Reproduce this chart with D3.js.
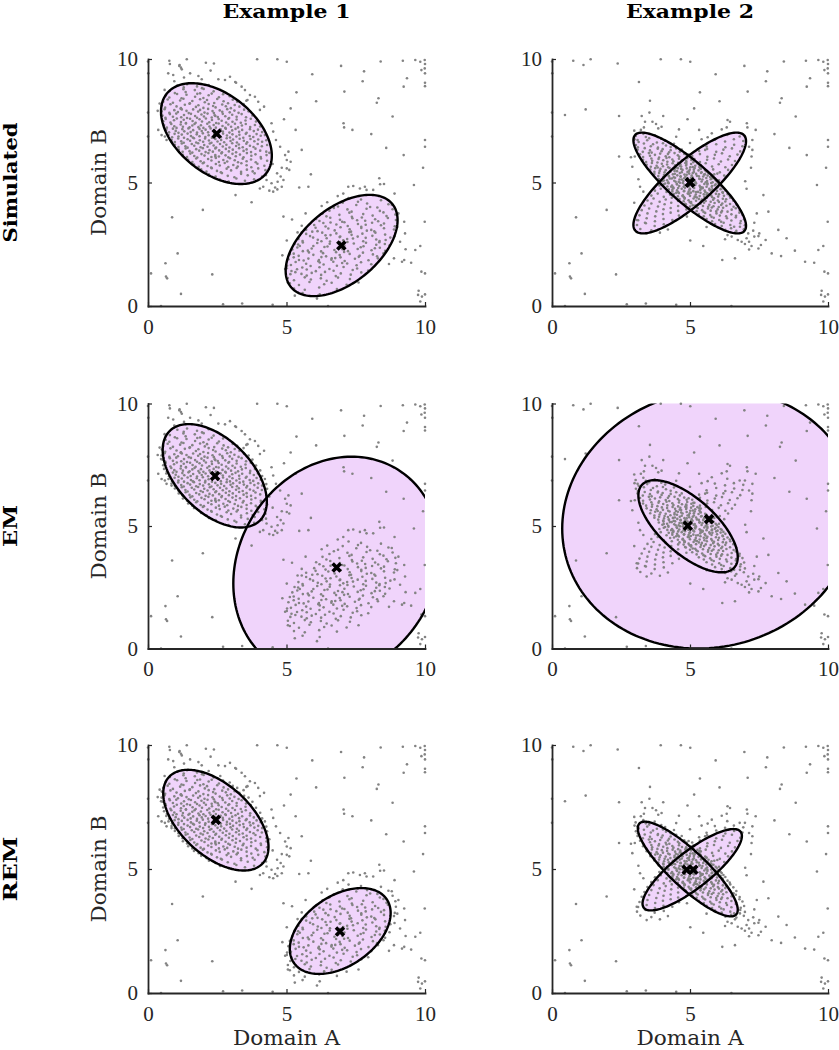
<!DOCTYPE html>
<html>
<head>
<meta charset="utf-8">
<script src="https://cdnjs.cloudflare.com/ajax/libs/d3/7.8.5/d3.min.js"></script>
<style>
  body { margin: 0; background: #fff; }
  svg { display: block; }
</style>
</head>
<body>
<svg id="chart" width="839" height="1050"></svg>
<script>
const colTitles = ["Example 1", "Example 2"];
const rowTitles = ["Simulated", "EM", "REM"];
const tickValues = [0, 5, 10];

// background points, identical in both examples
const noise = [[0.77,9.93],[1.14,9.76],[1.40,9.99],[2.38,9.82],[0.01,9.42],[3.94,9.99],[4.67,9.99],[5.01,9.89],[5.93,9.38],[6.97,9.72],[7.75,9.10],[5.36,8.65],[7.09,8.68],[3.15,9.07],[6.07,8.29],[9.20,9.93],[9.65,9.96],[9.83,9.89],[9.99,9.96],[10.0,9.80],[9.99,9.62],[10.0,9.42],[10.0,9.04],[10.0,8.90],[9.87,9.55],[9.35,9.22],[9.23,8.88],[8.32,8.41],[8.26,8.23],[8.83,7.67],[8.06,6.96],[9.23,6.11],[10.0,6.72],[10.0,6.45],[9.93,5.60],[9.99,3.41],[9.83,2.43],[9.65,2.27],[9.87,1.39],[10.0,1.32],[9.77,0.62],[9.75,0.45],[9.89,0.38],[10.0,0.47],[9.83,0.18],[9.17,1.79],[9.50,1.75],[0.47,7.73],[1.22,7.96],[0.0,7.83],[2.43,7.69],[3.55,8.31],[1.98,3.89],[0.87,3.59],[1.07,2.13],[0.63,1.73],[0.65,1.19],[0.69,1.12],[0.11,1.32],[1.19,0.49],[2.32,1.28],[2.71,0.07],[0.47,0.0],[0.0,6.86],[5.33,7.13],[5.15,8.0],[4.91,7.56],[5.55,6.32],[5.88,5.33],[5.46,4.8],[5.79,4.83],[4.89,3.62],[5.01,2.65],[7.08,7.23],[7.38,7.13],[7.06,7.4],[2.43,6.05],[5.48,2.43],[6.17,1.86],[6.63,1.93],[7.8,9.5],[8.4,9.9],[0.0,9.9],[4.5,0.05],[6.5,0.0],[3.4,0.1],[9.6,4.9],[8.6,6.4]];

// Example 1, first group (upper left)
const ex1GroupA = [[1.06,8.93],[1.29,8.85],[1.41,8.98],[1.77,8.89],[1.95,8.82],[2.19,8.95],
[0.79,8.71],[0.97,8.62],[1.28,8.78],[1.36,8.66],[1.69,8.74],[1.88,8.61],[2.01,8.79],[2.37,8.69],[2.61,8.75],
[0.64,8.52],[0.77,8.44],[1.05,8.58],[1.21,8.41],[1.39,8.55],[1.7,8.47],[1.78,8.59],[2.0,8.42],[2.19,8.53],[2.3,8.6],[2.56,8.45],[2.71,8.57],[2.95,8.49],
[0.55,8.27],[0.71,8.36],[0.9,8.23],[1.16,8.32],[1.28,8.39],[1.51,8.21],[1.6,8.3],[1.88,8.37],[2.05,8.25],[2.13,8.34],[2.39,8.22],[2.5,8.38],[2.73,8.29],[2.89,8.21],[3.06,8.35],[3.22,8.27],
[0.5,8.12],[0.62,8.03],[0.81,8.17],[1.03,8.08],[1.19,8.01],[1.33,8.15],[1.5,8.19],[1.73,8.06],[1.82,8.13],[2.0,8.02],[2.19,8.18],[2.35,8.1],[2.44,8.04],[2.68,8.16],[2.81,8.09],[2.99,8.01],[3.13,8.14],[3.3,8.07],[3.45,8.18],
[0.49,7.88],[0.6,7.97],[0.77,7.82],[0.95,7.93],[1.08,7.85],[1.18,7.99],[1.39,7.9],[1.47,7.81],[1.63,7.96],[1.81,7.87],[1.88,7.94],[2.04,7.83],[2.17,7.98],[2.33,7.89],[2.38,7.81],[2.59,7.92],[2.68,7.86],[2.86,7.97],[2.95,7.84],[3.12,7.91],[3.27,7.82],[3.47,7.95],[3.63,7.88],
[0.52,7.71],[0.63,7.62],[0.79,7.77],[0.9,7.66],[1.02,7.79],[1.2,7.64],[1.3,7.73],[1.41,7.61],[1.55,7.78],[1.7,7.69],[1.77,7.62],[1.93,7.75],[2.02,7.67],[2.15,7.79],[2.3,7.63],[2.41,7.72],[2.52,7.65],[2.7,7.78],[2.79,7.68],[2.93,7.61],[3.04,7.74],[3.2,7.66],[3.38,7.77],[3.54,7.64],[3.77,7.71],
[0.55,7.48],[0.64,7.57],[0.81,7.43],[0.94,7.52],[1.04,7.59],[1.19,7.45],[1.29,7.54],[1.37,7.41],[1.52,7.58],[1.61,7.49],[1.72,7.42],[1.86,7.56],[1.95,7.47],[2.09,7.59],[2.21,7.44],[2.31,7.53],[2.46,7.41],[2.55,7.57],[2.66,7.5],[2.82,7.43],[2.9,7.58],[3.05,7.46],[3.2,7.55],[3.35,7.42],[3.52,7.51],[3.71,7.58],[3.9,7.47],
[0.58,7.33],[0.68,7.22],[0.84,7.37],[0.95,7.28],[1.03,7.21],[1.18,7.35],[1.26,7.26],[1.37,7.39],[1.5,7.23],[1.6,7.31],[1.68,7.37],[1.82,7.24],[1.91,7.32],[2.0,7.21],[2.14,7.38],[2.22,7.27],[2.37,7.33],[2.45,7.22],[2.55,7.39],[2.69,7.29],[2.79,7.21],[2.9,7.35],[3.0,7.26],[3.14,7.38],[3.25,7.23],[3.39,7.31],[3.53,7.37],[3.69,7.25],[3.86,7.33],[4.05,7.27],
[0.66,7.14],[0.76,7.03],[0.9,7.18],[1.0,7.09],[1.1,7.01],[1.24,7.16],[1.31,7.07],[1.46,7.19],[1.54,7.04],[1.63,7.12],[1.77,7.02],[1.86,7.17],[1.94,7.08],[2.08,7.14],[2.17,7.03],[2.26,7.19],[2.4,7.1],[2.48,7.01],[2.62,7.15],[2.7,7.06],[2.81,7.18],[2.94,7.02],[3.04,7.11],[3.16,7.17],[3.29,7.05],[3.4,7.13],[3.56,7.01],[3.68,7.16],[3.82,7.08],[3.97,7.14],[4.12,7.04],
[0.74,6.92],[0.87,6.83],[0.96,6.97],[1.1,6.86],[1.22,6.94],[1.3,6.81],[1.43,6.98],[1.55,6.88],[1.62,6.82],[1.76,6.95],[1.86,6.87],[1.98,6.99],[2.07,6.84],[2.19,6.91],[2.31,6.81],[2.39,6.96],[2.52,6.89],[2.63,6.83],[2.71,6.98],[2.85,6.9],[2.96,6.82],[3.05,6.95],[3.19,6.86],[3.3,6.93],[3.44,6.81],[3.53,6.97],[3.67,6.88],[3.8,6.84],[3.92,6.96],[4.07,6.89],[4.22,6.92],
[0.85,6.73],[0.97,6.64],[1.09,6.78],[1.2,6.67],[1.29,6.61],[1.43,6.75],[1.52,6.69],[1.66,6.79],[1.74,6.62],[1.87,6.71],[1.99,6.65],[2.06,6.78],[2.2,6.7],[2.29,6.61],[2.43,6.76],[2.51,6.66],[2.64,6.72],[2.75,6.63],[2.84,6.79],[2.98,6.68],[3.07,6.74],[3.21,6.62],[3.31,6.77],[3.46,6.69],[3.58,6.63],[3.7,6.76],[3.84,6.67],[3.98,6.74],[4.12,6.65],[4.27,6.71],
[0.97,6.53],[1.1,6.44],[1.22,6.58],[1.35,6.47],[1.43,6.41],[1.58,6.56],[1.67,6.49],[1.81,6.59],[1.9,6.43],[2.03,6.52],[2.15,6.45],[2.23,6.58],[2.37,6.5],[2.46,6.42],[2.6,6.56],[2.7,6.46],[2.83,6.53],[2.94,6.42],[3.04,6.59],[3.18,6.48],[3.28,6.54],[3.42,6.43],[3.55,6.57],[3.68,6.49],[3.81,6.44],[3.96,6.56],[4.11,6.47],[4.3,6.52],
[1.11,6.33],[1.25,6.24],[1.36,6.38],[1.5,6.27],[1.6,6.21],[1.74,6.35],[1.85,6.29],[1.98,6.39],[2.08,6.23],[2.22,6.31],[2.34,6.25],[2.43,6.38],[2.57,6.3],[2.67,6.22],[2.81,6.36],[2.92,6.26],[3.06,6.33],[3.18,6.22],[3.29,6.39],[3.45,6.28],[3.56,6.34],[3.72,6.23],[3.88,6.37],[4.05,6.29],[4.27,6.25],
[1.26,6.12],[1.41,6.03],[1.53,6.17],[1.67,6.07],[1.78,6.01],[1.93,6.15],[2.04,6.09],[2.18,6.19],[2.29,6.03],[2.43,6.11],[2.56,6.05],[2.65,6.18],[2.8,6.1],[2.9,6.02],[3.05,6.16],[3.17,6.06],[3.32,6.13],[3.45,6.02],[3.57,6.19],[3.73,6.08],[3.88,6.14],[4.07,6.03],[4.28,6.11],
[1.45,5.92],[1.6,5.83],[1.74,5.97],[1.9,5.86],[2.02,5.81],[2.17,5.95],[2.29,5.89],[2.45,5.99],[2.56,5.83],[2.72,5.91],[2.86,5.85],[2.96,5.98],[3.13,5.9],[3.25,5.82],[3.42,5.96],[3.56,5.86],[3.72,5.93],[3.89,5.82],[4.08,5.97],[4.3,5.88],
[1.66,5.73],[1.83,5.64],[1.98,5.78],[2.15,5.67],[2.28,5.61],[2.45,5.75],[2.59,5.69],[2.77,5.79],[2.9,5.63],[3.08,5.71],[3.24,5.65],[3.37,5.78],[3.56,5.7],[3.73,5.62],[3.95,5.76],[4.2,5.68],
[1.92,5.53],[2.11,5.44],[2.3,5.58],[2.49,5.47],[2.63,5.41],[2.84,5.56],[3.0,5.49],[3.2,5.59],[3.36,5.43],[3.57,5.52],[3.78,5.45],[3.98,5.57],[4.24,5.5],
[2.2,5.33],[2.44,5.24],[2.67,5.38],[2.88,5.27],[3.12,5.21],[3.36,5.35],[3.6,5.29],[3.85,5.37],[4.12,5.24],
[2.6,5.12],[2.91,5.04],[3.19,5.16],[3.5,5.07],[3.83,5.13],
[0.79,9.8],[1.13,9.72],[1.19,9.65],[1.22,9.58],[2.09,9.85],[0.73,9.42],[0.91,9.35],[1.52,9.42],[1.82,9.31],[1.94,9.18],[2.26,9.53],[2.54,9.18],[2.78,9.15],[2.96,9.28],[3.18,9.04],[3.38,8.88],[3.5,8.74],[3.68,8.54],[3.59,8.34],[3.86,8.47],[3.98,8.27],[4.19,8.07],[4.04,7.94],[4.46,7.4],[4.52,7.06],[4.62,6.72],[4.77,6.45],[4.95,6.11],[5.07,6.25],[5.01,5.91],[5.15,5.84],[4.83,5.6],[5.01,5.57],[5.1,5.51],[4.66,5.37],[4.79,5.24],[4.46,4.97],[4.59,4.8],[4.67,4.72],[4.83,4.83],[4.38,4.67],[4.52,4.63],[4.28,5.1],[4.16,4.83],[4.04,4.76],[4.26,5.3],[4.68,5.03],[4.89,5.1],[0.37,7.13],[0.49,6.92],[0.61,6.86],[0.67,6.72],[0.85,6.65],[3.74,4.2],[3.16,4.49],[0.35,7.9],[0.42,8.2],[0.6,8.75],[0.95,9.1],[1.3,9.25],[4.38,6.2],[4.5,5.75]];

// Example 1, second group (lower right)
const ex1GroupB = [[7.24,4.37],[7.58,4.22],[7.69,4.31],[8.41,4.28],
[6.86,4.03],[7.03,4.18],[7.52,4.09],[7.91,4.15],[8.02,4.01],[8.68,4.12],
[6.55,3.86],[6.71,3.97],[7.2,3.91],[7.35,3.82],[7.89,3.94],[8.28,3.99],[8.37,3.85],[8.83,3.92],
[6.3,3.74],[6.44,3.63],[6.91,3.69],[7.27,3.78],[7.36,3.61],[7.77,3.72],[8.11,3.66],[8.5,3.79],[8.61,3.64],[8.93,3.7],
[6.07,3.52],[6.19,3.44],[6.58,3.57],[6.93,3.49],[7.01,3.41],[7.38,3.55],[7.72,3.58],[7.84,3.45],[8.2,3.51],[8.31,3.43],[8.66,3.56],[8.95,3.48],[7.55,3.47],
[6.0,3.28],[6.33,3.36],[6.41,3.22],[6.8,3.3],[7.09,3.39],[7.21,3.24],[7.58,3.32],[7.7,3.21],[8.09,3.37],[8.41,3.27],[8.52,3.34],[8.91,3.23],[6.59,3.38],[7.86,3.29],
[5.71,3.09],[6.05,3.17],[6.12,3.03],[6.51,3.14],[6.74,3.06],[6.95,3.19],[7.28,3.11],[7.33,3.01],[7.7,3.16],[8.06,3.08],[8.17,3.02],[8.52,3.15],[8.88,3.1],[5.93,3.01],[7.9,3.05],
[5.71,2.92],[5.85,2.83],[6.29,2.97],[6.41,2.86],[6.8,2.94],[6.94,2.81],[7.27,2.99],[7.35,2.88],[7.74,2.93],[8.1,2.84],[8.21,2.97],[8.56,2.89],[8.9,2.82],[6.59,2.87],[7.57,2.81],[5.55,2.98],
[5.43,2.71],[5.58,2.63],[5.96,2.77],[6.13,2.68],[6.45,2.74],[6.57,2.61],[6.92,2.79],[7.05,2.66],[7.4,2.73],[7.77,2.62],[7.86,2.76],[8.24,2.69],[8.36,2.63],[8.75,2.77],[6.26,2.62],[7.19,2.71],[8.58,2.67],
[5.42,2.49],[5.59,2.57],[5.97,2.43],[6.11,2.55],[6.48,2.41],[6.56,2.52],[6.93,2.58],[7.09,2.44],[7.43,2.53],[7.78,2.42],[7.87,2.56],[8.24,2.48],[8.35,2.58],[8.72,2.45],[5.29,2.51],[7.2,2.59],[8.55,2.51],
[5.21,2.29],[5.39,2.37],[5.77,2.24],[5.91,2.33],[6.25,2.21],[6.37,2.39],[6.73,2.27],[6.86,2.35],[7.22,2.22],[7.57,2.31],[7.68,2.38],[8.07,2.26],[8.19,2.34],[8.56,2.23],[5.59,2.22],[7.02,2.3],[8.37,2.36],
[5.26,2.12],[5.44,2.03],[5.81,2.17],[5.97,2.07],[6.32,2.14],[6.43,2.01],[6.79,2.18],[6.92,2.06],[7.28,2.11],[7.64,2.03],[7.76,2.16],[8.12,2.09],[8.27,2.01],[8.5,2.13],[5.12,2.1],[7.08,2.19],
[5.07,1.89],[5.26,1.97],[5.62,1.84],[5.79,1.92],[6.15,1.81],[6.26,1.98],[6.62,1.87],[6.76,1.94],[7.1,1.82],[7.47,1.91],[7.61,1.99],[7.96,1.85],[8.3,1.93],[5.45,1.86],[6.95,1.97],
[5.16,1.66],[5.33,1.78],[5.71,1.71],[5.87,1.62],[6.2,1.76],[6.34,1.68],[6.69,1.79],[6.82,1.63],[7.19,1.72],[7.53,1.65],[7.69,1.77],[8.06,1.69],[5.02,1.63],[7.01,1.74],
[5.01,1.53],[5.18,1.42],[5.57,1.56],[5.73,1.48],[6.06,1.41],[6.19,1.57],[6.55,1.5],[6.7,1.43],[7.06,1.58],[7.39,1.46],[7.55,1.52],[7.95,1.44],[5.38,1.49],
[5.14,1.29],[5.32,1.37],[5.73,1.23],[5.91,1.34],[6.25,1.26],[6.39,1.38],[6.78,1.21],[6.96,1.32],[7.32,1.27],[7.7,1.36],[5.54,1.3],
[5.05,1.13],[5.27,1.04],[5.66,1.16],[5.88,1.07],[6.24,1.12],[6.45,1.02],[6.86,1.15],[7.29,1.09],
[5.12,0.92],[5.45,0.85],[5.83,0.97],[6.36,0.88],[6.63,0.94],[7.17,0.86],
[5.27,0.71],[5.66,0.66],[6.18,0.75],[6.82,0.69],
[5.58,0.52],[6.2,0.47],
[7.23,4.83],[7.41,4.86],[7.65,4.76],[7.83,4.83],[7.89,4.7],[8.13,4.7],[8.35,5.17],[8.52,4.94],[8.38,4.93],[9.04,3.75],[9.25,3.41],[9.28,2.94],[9.1,2.6],[8.88,1.93],[9.25,1.86],[6.27,4.05],[6.47,4.2],[6.85,4.45],[7.05,4.55],[5.69,3.75],[5.55,3.25],[5.4,2.98],[4.85,2.05],[5.05,0.95],[5.3,0.42],[6.1,0.3],[8.8,4.1],[9.0,3.2],[8.7,1.7],[7.6,0.95],[5.2,3.5],[4.95,1.5],[9.3,2.3],[8.9,4.55]];

// Example 2, first group (falling diagonal)
const ex2GroupA = [[3.03,6.88],[3.31,6.97],[3.4,6.84],[3.72,6.91],
[2.99,6.75],[3.14,6.64],[3.45,6.71],[3.52,6.79],[3.8,6.62],[3.96,6.77],[4.1,6.69],
[3.04,6.52],[3.11,6.43],[3.33,6.58],[3.58,6.47],[3.66,6.55],[3.84,6.41],[4.02,6.59],[4.13,6.5],[4.3,6.44],[4.42,6.57],
[3.1,6.33],[3.29,6.24],[3.36,6.39],[3.55,6.3],[3.61,6.21],[3.83,6.37],[3.97,6.27],[4.01,6.35],[4.24,6.22],[4.3,6.31],[4.5,6.38],[4.63,6.25],[4.7,6.33],
[3.19,6.14],[3.3,6.03],[3.51,6.19],[3.55,6.08],[3.73,6.12],[3.88,6.01],[3.92,6.17],[4.12,6.06],[4.2,6.15],[4.25,6.02],[4.44,6.19],[4.56,6.1],[4.61,6.04],[4.79,6.16],[4.88,6.07],[4.95,6.13],
[3.3,5.92],[3.41,5.83],[3.6,5.97],[3.63,5.88],[3.82,5.81],[3.86,5.95],[4.03,5.9],[4.15,5.99],[4.18,5.84],[4.36,5.93],[4.4,5.86],[4.57,5.8],[4.6,5.96],[4.71,5.89],[4.87,5.83],[4.9,5.98],[5.05,5.91],[5.12,5.82],[5.16,5.95],
[3.43,5.72],[3.58,5.64],[3.62,5.79],[3.79,5.68],[3.83,5.61],[3.98,5.76],[4.02,5.66],[4.17,5.73],[4.21,5.62],[4.37,5.78],[4.46,5.7],[4.49,5.61],[4.65,5.74],[4.68,5.65],[4.83,5.79],[4.86,5.69],[5.01,5.62],[5.04,5.75],[5.19,5.68],[5.27,5.77],[5.34,5.63],[5.39,5.71],
[3.56,5.52],[3.71,5.43],[3.74,5.58],[3.9,5.47],[3.93,5.55],[4.08,5.41],[4.12,5.5],[4.26,5.59],[4.29,5.44],[4.44,5.53],[4.53,5.46],[4.56,5.58],[4.7,5.42],[4.73,5.51],[4.88,5.57],[4.96,5.45],[4.99,5.52],[5.14,5.43],[5.17,5.59],[5.31,5.49],[5.39,5.55],[5.42,5.41],[5.55,5.5],[5.59,5.46],
[3.71,5.34],[3.85,5.26],[3.88,5.38],[4.03,5.22],[4.06,5.31],[4.2,5.37],[4.24,5.24],[4.38,5.33],[4.41,5.21],[4.54,5.29],[4.63,5.38],[4.66,5.25],[4.8,5.32],[4.83,5.23],[4.97,5.36],[5.06,5.28],[5.09,5.21],[5.22,5.35],[5.25,5.27],[5.4,5.39],[5.48,5.24],[5.51,5.32],[5.64,5.28],[5.67,5.37],[5.73,5.22],[5.78,5.31],
[3.87,5.14],[4.0,5.05],[4.04,5.18],[4.17,5.09],[4.21,5.01],[4.34,5.16],[4.43,5.07],[4.46,5.19],[4.59,5.03],[4.62,5.12],[4.76,5.06],[4.79,5.17],[4.93,5.02],[5.01,5.11],[5.04,5.19],[5.17,5.08],[5.2,5.01],[5.34,5.15],[5.42,5.04],[5.45,5.12],[5.59,5.18],[5.62,5.06],[5.75,5.13],[5.82,5.01],[5.85,5.17],[5.93,5.09],[5.97,5.04],
[4.05,4.93],[4.18,4.84],[4.22,4.97],[4.35,4.88],[4.39,4.81],[4.52,4.95],[4.61,4.86],[4.64,4.99],[4.77,4.83],[4.8,4.91],[4.94,4.85],[4.97,4.98],[5.11,4.82],[5.19,4.9],[5.22,4.97],[5.35,4.87],[5.38,4.81],[5.52,4.94],[5.6,4.83],[5.63,4.92],[5.77,4.98],[5.8,4.86],[5.93,4.93],[6.0,4.81],[6.03,4.96],[6.11,4.88],[6.15,4.84],
[4.23,4.72],[4.36,4.64],[4.4,4.77],[4.53,4.68],[4.57,4.61],[4.7,4.75],[4.79,4.66],[4.82,4.79],[4.95,4.63],[4.98,4.71],[5.12,4.65],[5.15,4.78],[5.29,4.62],[5.37,4.7],[5.4,4.76],[5.53,4.67],[5.56,4.61],[5.7,4.74],[5.78,4.63],[5.81,4.72],[5.95,4.78],[5.98,4.66],[6.11,4.73],[6.18,4.61],[6.21,4.76],[6.28,4.68],
[4.42,4.53],[4.56,4.44],[4.6,4.57],[4.74,4.48],[4.78,4.41],[4.92,4.55],[5.0,4.46],[5.03,4.59],[5.17,4.43],[5.21,4.51],[5.35,4.45],[5.38,4.58],[5.52,4.42],[5.6,4.5],[5.63,4.56],[5.77,4.47],[5.8,4.41],[5.94,4.54],[6.02,4.43],[6.05,4.52],[6.19,4.58],[6.23,4.46],[6.36,4.53],[6.44,4.45],
[4.62,4.33],[4.77,4.24],[4.81,4.37],[4.95,4.28],[4.99,4.21],[5.13,4.35],[5.22,4.26],[5.25,4.39],[5.4,4.23],[5.43,4.31],[5.57,4.25],[5.61,4.38],[5.75,4.22],[5.84,4.3],[5.87,4.36],[6.01,4.27],[6.05,4.21],[6.19,4.34],[6.28,4.23],[6.31,4.32],[6.46,4.38],[6.57,4.26],
[4.85,4.12],[5.0,4.03],[5.04,4.16],[5.19,4.07],[5.23,4.01],[5.38,4.14],[5.47,4.05],[5.51,4.18],[5.66,4.02],[5.7,4.1],[5.85,4.04],[5.89,4.17],[6.04,4.01],[6.13,4.09],[6.17,4.15],[6.32,4.06],[6.45,4.13],[6.58,4.02],[6.68,4.11],
[5.08,3.93],[5.24,3.84],[5.28,3.97],[5.44,3.88],[5.49,3.81],[5.65,3.95],[5.75,3.86],[5.79,3.99],[5.95,3.83],[6.0,3.91],[6.16,3.85],[6.2,3.98],[6.36,3.82],[6.51,3.9],[6.66,3.96],[6.8,3.87],
[5.32,3.72],[5.5,3.63],[5.55,3.77],[5.73,3.68],[5.78,3.61],[5.96,3.75],[6.08,3.66],[6.13,3.79],[6.31,3.63],[6.5,3.71],[6.67,3.65],[6.79,3.78],[6.9,3.69],
[5.6,3.52],[5.8,3.43],[5.86,3.57],[6.06,3.48],[6.13,3.41],[6.34,3.55],[6.5,3.46],[6.66,3.59],[6.84,3.44],[6.96,3.51],
[5.91,3.32],[6.15,3.24],[6.22,3.37],[6.46,3.28],[6.6,3.21],[6.82,3.35],[6.99,3.27],
[6.28,3.08],[6.49,3.15],[6.68,3.04],[6.95,3.11],
[3.25,7.69],[3.37,7.46],[3.53,7.83],[3.64,7.46],[3.77,7.37],[3.85,7.19],[3.97,7.26],[3.33,7.23],[3.22,7.13],[2.98,7.1],[4.03,7.69],[4.6,7.15],[3.1,6.72],[3.0,6.05],[2.86,6.02],[2.91,5.64],[3.13,5.13],[3.19,4.83],[2.98,4.18],[3.31,4.63],
[6.73,2.67],[6.87,2.6],[6.99,2.51],[7.14,2.6],[7.23,2.43],[7.33,2.81],[7.48,2.83],[7.57,2.47],[7.74,2.67],[7.05,2.74],[7.11,2.94],[7.29,3.05],[7.33,3.37],[7.42,3.75],[7.66,4.49],[7.84,3.82],[6.81,3.21],[6.63,2.97],[6.51,2.81],[6.36,2.87],[6.27,2.7],[7.48,2.33],[7.14,2.29],[7.96,2.13],[8.3,2.02],[8.5,2.74],[8.8,2.24],[8.2,3.08],[7.51,2.94]];

// Example 2, second group (rising diagonal)
const ex2GroupB = [[6.35,6.93],[6.8,6.86],
[5.9,6.73],[6.27,6.66],[6.59,6.75],[6.93,6.68],
[5.6,6.46],[5.95,6.55],[6.28,6.43],[6.6,6.53],[6.9,6.47],
[5.33,6.28],[5.62,6.36],[5.95,6.24],[6.21,6.33],[6.52,6.38],[6.82,6.26],
[5.08,6.07],[5.36,6.15],[5.63,6.04],[5.9,6.12],[6.16,6.18],[6.44,6.06],[6.72,6.13],
[4.86,5.88],[5.12,5.95],[5.36,5.83],[5.62,5.92],[5.87,5.97],[6.12,5.85],[6.38,5.93],[6.63,5.87],
[4.63,5.67],[4.87,5.75],[5.1,5.63],[5.34,5.72],[5.57,5.78],[5.8,5.65],[6.04,5.74],[6.28,5.62],[6.52,5.71],
[4.44,5.47],[4.68,5.55],[4.91,5.43],[5.14,5.52],[5.37,5.58],[5.6,5.45],[5.84,5.53],[6.08,5.41],[6.38,5.51],
[4.23,5.27],[4.45,5.35],[4.66,5.23],[4.88,5.31],[5.1,5.38],[5.32,5.25],[5.54,5.33],[5.76,5.21],[5.99,5.36],[6.24,5.28],
[4.05,5.08],[4.27,5.16],[4.48,5.03],[4.7,5.12],[4.91,5.18],[5.13,5.05],[5.35,5.14],[5.57,5.01],[5.8,5.17],[6.05,5.09],
[3.89,4.88],[4.1,4.96],[4.32,4.83],[4.53,4.92],[4.74,4.98],[4.96,4.85],[5.18,4.94],[5.4,4.81],[5.63,4.97],[5.9,4.89],
[3.73,4.67],[3.94,4.75],[4.15,4.62],[4.36,4.71],[4.57,4.78],[4.78,4.65],[5.0,4.74],[5.22,4.61],[5.45,4.77],[5.72,4.69],
[3.6,4.47],[3.83,4.55],[4.05,4.42],[4.28,4.51],[4.5,4.58],[4.73,4.45],[4.96,4.54],[5.2,4.41],[5.5,4.52],
[3.46,4.27],[3.68,4.35],[3.9,4.22],[4.12,4.31],[4.34,4.38],[4.57,4.25],[4.8,4.34],[5.04,4.21],[5.32,4.33],
[3.35,4.07],[3.6,4.15],[3.84,4.03],[4.08,4.12],[4.32,4.18],[4.57,4.05],[4.82,4.14],[5.1,4.08],
[3.25,3.88],[3.52,3.95],[3.78,3.83],[4.04,3.92],[4.3,3.97],[4.57,3.85],[4.87,3.91],
[3.17,3.67],[3.46,3.75],[3.74,3.63],[4.02,3.72],[4.3,3.78],[4.6,3.66],
[3.12,3.47],[3.43,3.55],[3.73,3.43],[4.04,3.52],[4.36,3.48],
[3.08,3.28],[3.4,3.35],[3.72,3.24],[4.05,3.31],
[3.2,3.12],[3.6,3.06],
[6.36,7.53],[6.45,7.46],[6.33,7.23],[6.15,7.15],[5.79,6.99],[5.64,6.83],[5.42,6.75],[6.99,6.86],[7.26,6.72],[7.14,6.45],[7.26,6.32],[7.23,6.05],[7.21,5.6],[7.0,5.05],[7.05,4.75],
[3.07,3.48],[3.37,3.37],[3.43,2.94],[3.91,2.97],[4.2,3.1],[5.6,3.2],[4.5,6.85],[5.0,6.6]];

// fitted components: [mean A, mean B, half-width in A, half-height in B, correlation]
const simEx1 = [[2.47,6.98,2.0,2.04,-0.44],[6.99,2.45,2.02,2.05,0.5]];
const simEx2 = [[4.99,4.98,2.04,2.04,-0.85],[4.99,4.98,2.04,2.04,0.83]];
const emEx1 = [[2.41,7.05,1.88,2.11,-0.5],[6.81,3.31,3.73,4.52,0.145]];
const emEx2 = [[4.93,4.99,1.8,1.88,-0.67],[5.69,5.28,5.32,5.28,0.073]];
const remEx1 = [[2.45,6.97,1.9,2.03,-0.53],[6.94,2.5,1.82,1.73,0.42]];
const remEx2 = [[4.92,5.0,1.81,1.91,-0.86],[5.08,4.97,1.8,1.64,0.83]];

// component means (black crosses)
const simEx1Means = [[2.48,6.97],[6.98,2.45]];
const simEx2Means = [[5.0,5.0],[5.0,5.0]];
const emEx1Means = [[2.42,7.04],[6.81,3.31]];
const emEx2Means = [[4.92,5.01],[5.69,5.28]];
const remEx1Means = [[2.45,6.98],[6.93,2.48]];
const remEx2Means = [[4.88,4.97],[5.12,4.97]];

const components = [[simEx1, simEx2], [emEx1, emEx2], [remEx1, remEx2]];
const means = [[simEx1Means, simEx2Means], [emEx1Means, emEx2Means], [remEx1Means, remEx2Means]];
const samples = [noise.concat(ex1GroupA, ex1GroupB), noise.concat(ex2GroupA, ex2GroupB)];

const colLeft = [148, 552];
const colRight = [425, 828];
const rowTop = [59, 403.5, 745];
const rowBottom = [306, 648.5, 993];

const axisColor = "#262626";
const svg = d3.select("#chart");

// trace a covariance ellipse through the scales
function ellipsePath(e, x, y) {
  const [cx, cy, sx, sy, r] = e;
  const pts = d3.range(0, 181).map(i => {
    const t = i / 180 * 2 * Math.PI;
    return [x(cx + sx * Math.cos(t)),
            y(cy + sy * (r * Math.cos(t) + Math.sqrt(1 - r * r) * Math.sin(t)))];
  });
  return d3.line()(pts) + "Z";
}

rowTitles.forEach((rt, r) => {
  colTitles.forEach((ct, c) => {
    const x = d3.scaleLinear().domain([0, 10]).range([colLeft[c], colRight[c]]);
    const y = d3.scaleLinear().domain([0, 10]).range([rowBottom[r], rowTop[r]]);
    const id = "clip" + r + c;

    svg.append("clipPath").attr("id", id)
      .append("rect")
      .attr("x", colLeft[c]).attr("y", rowTop[r])
      .attr("width", colRight[c] - colLeft[c])
      .attr("height", rowBottom[r] - rowTop[r]);

    const g = svg.append("g");

    g.append("g").attr("clip-path", "url(#" + id + ")")
      .selectAll("path")
      .data(components[r][c])
      .enter()
      .append("path")
      .attr("d", d => ellipsePath(d, x, y))
      .attr("fill", "#f0d4fb")
      .attr("stroke", "none");

    g.append("g")
      .selectAll("circle")
      .data(samples[c])
      .enter()
      .append("circle")
      .attr("cx", d => x(d[0]))
      .attr("cy", d => y(d[1]))
      .attr("r", 1.3)
      .attr("fill", "#838383");

    g.append("g").attr("clip-path", "url(#" + id + ")")
      .selectAll("path")
      .data(components[r][c])
      .enter()
      .append("path")
      .attr("d", d => ellipsePath(d, x, y))
      .attr("fill", "none")
      .attr("stroke", "#000")
      .attr("stroke-width", 2.4);

    const xAxis = d3.axisBottom(x).tickValues(tickValues).tickSize(-4).tickSizeOuter(0).tickPadding(13);
    const yAxis = d3.axisLeft(y).tickValues(tickValues).tickSize(-4).tickSizeOuter(0).tickPadding(10);

    [g.append("g").attr("transform", "translate(0," + rowBottom[r] + ")").call(xAxis),
     g.append("g").attr("transform", "translate(" + colLeft[c] + ",0)").call(yAxis)]
      .forEach(a => {
        a.select(".domain").attr("stroke", axisColor).attr("stroke-width", 1.8).attr("stroke-linecap", "square");
        a.selectAll(".tick line").attr("stroke", axisColor).attr("stroke-width", 1.2);
        a.selectAll(".tick text")
          .attr("fill", axisColor)
          .style("font-family", "'Liberation Serif', serif")
          .style("font-size", "21px");
      });

    g.append("g")
      .selectAll("path")
      .data(means[r][c])
      .enter()
      .append("path")
      .attr("transform", d => "translate(" + x(d[0]) + "," + y(d[1]) + ")")
      .attr("d", "M-4,-4L4,4M-4,4L4,-4")
      .attr("stroke", "#000")
      .attr("stroke-width", 3.6);
  });
});

// column titles
colTitles.forEach((t, c) => {
  svg.append("text")
    .attr("x", (colLeft[c] + colRight[c]) / 2)
    .attr("y", 18)
    .attr("text-anchor", "middle")
    .attr("textLength", 128)
    .attr("lengthAdjust", "spacingAndGlyphs")
    .style("font-family", "'DejaVu Serif', serif")
    .style("font-weight", "bold")
    .style("font-size", "19px")
    .text(t);
});

// row titles
const rowTitleLen = [120, 42, 65];
rowTitles.forEach((t, r) => {
  svg.append("text")
    .attr("transform", "translate(17," + (rowTop[r] + rowBottom[r]) / 2 + ") rotate(-90)")
    .attr("text-anchor", "middle")
    .attr("textLength", rowTitleLen[r])
    .attr("lengthAdjust", "spacingAndGlyphs")
    .style("font-family", "'DejaVu Serif', serif")
    .style("font-weight", "bold")
    .style("font-size", "19px")
    .text(t);
});

// axis labels
rowTitles.forEach((t, r) => {
  svg.append("text")
    .attr("transform", "translate(106," + (rowTop[r] + rowBottom[r]) / 2 + ") rotate(-90)")
    .attr("text-anchor", "middle")
    .attr("textLength", 107)
    .attr("lengthAdjust", "spacingAndGlyphs")
    .attr("fill", axisColor)
    .style("font-family", "'DejaVu Serif', serif")
    .style("font-size", "20px")
    .text("Domain B");
});
colTitles.forEach((t, c) => {
  svg.append("text")
    .attr("x", (colLeft[c] + colRight[c]) / 2)
    .attr("y", 1045)
    .attr("text-anchor", "middle")
    .attr("textLength", 107)
    .attr("lengthAdjust", "spacingAndGlyphs")
    .attr("fill", axisColor)
    .style("font-family", "'DejaVu Serif', serif")
    .style("font-size", "20px")
    .text("Domain A");
});
</script>
</body>
</html>
